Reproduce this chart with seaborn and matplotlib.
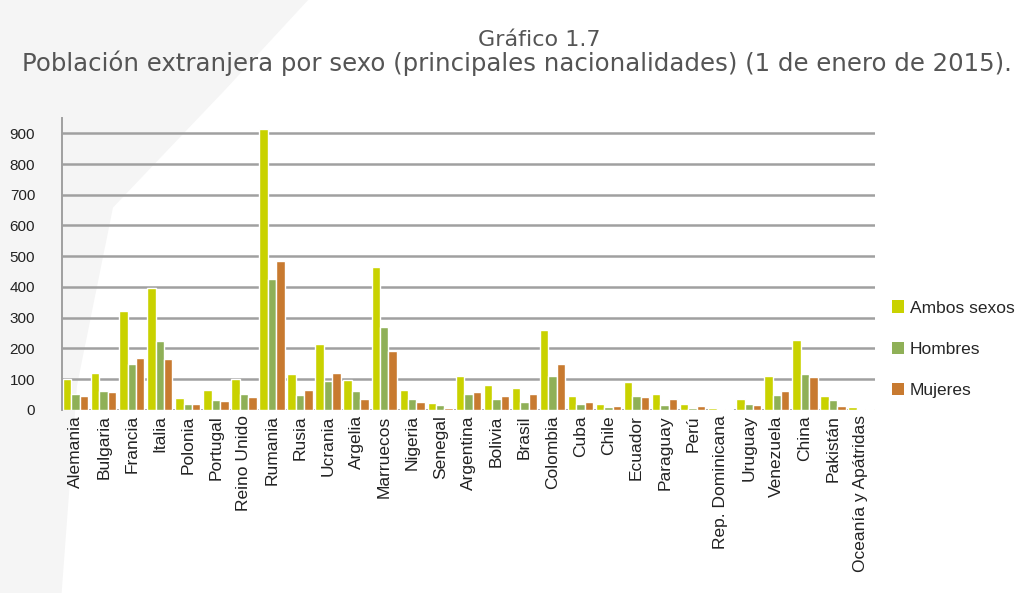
import matplotlib
matplotlib.use("Agg")
import matplotlib.pyplot as plt
import seaborn as sns
import pandas as pd
from matplotlib.patches import Polygon, Patch

paises = ["Alemania", "Bulgaria", "Francia", "Italia", "Polonia", "Portugal",
          "Reino Unido", "Rumania", "Rusia", "Ucrania", "Argelia", "Marruecos",
          "Nigeria", "Senegal", "Argentina", "Bolivia", "Brasil", "Colombia",
          "Cuba", "Chile", "Ecuador", "Paraguay", "Perú", "Rep. Dominicana",
          "Uruguay", "Venezuela", "China", "Pakistán", "Oceanía y Apátridas"]
ambos = [100, 120, 322, 398, 38, 63, 100, 915, 115, 215, 98, 465,
         65, 22, 110, 80, 70, 260, 45, 20, 90, 50, 18, 5,
         35, 110, 228, 45, 8]
hombres = [52, 60, 150, 225, 18, 32, 52, 425, 48, 95, 60, 270,
           35, 15, 52, 35, 25, 110, 20, 9, 45, 15, 7, 2,
           18, 48, 118, 32, 4]
mujeres = [46, 58, 168, 165, 20, 28, 40, 485, 65, 120, 35, 192,
           25, 6, 58, 45, 52, 148, 25, 12, 42, 35, 12, 3,
           17, 60, 108, 13, 4]
series = ["Ambos sexos", "Hombres", "Mujeres"]
colores = ["#c9d200", "#8fb057", "#c87a30"]

df = pd.DataFrame({
    "pais": paises * 3,
    "valor": ambos + hombres + mujeres,
    "sexo": [series[0]] * len(paises) + [series[1]] * len(paises) + [series[2]] * len(paises),
})

sns.set_style("white")
plt.rcParams["font.family"] = ["Liberation Sans", "DejaVu Sans"]

fig = plt.figure(figsize=(10.27, 5.93), dpi=100)
# decorative brush stroke in background
fig.patches.append(Polygon([(0.0, 0.0), (0.0, 1.0), (0.30, 1.0), (0.22, 0.85),
                            (0.11, 0.65), (0.075, 0.35), (0.06, 0.0)],
                           closed=True, transform=fig.transFigure,
                           facecolor="#f5f5f5", edgecolor="none", zorder=-10))

ax = fig.add_axes([0.060, 0.309, 0.792, 0.492])
ax.patch.set_alpha(0)
sns.barplot(data=df, x="pais", y="valor", hue="sexo", palette=colores,
            width=0.9, ax=ax, legend=False, saturation=1)

ax.set_ylim(0, 950)
ax.set_yticks(range(0, 1000, 100))
ax.set_xlim(-0.5, len(paises) - 0.5)
ax.yaxis.grid(True, color="#a0a0a0", linewidth=1.8)
ax.set_axisbelow(True)
for s in ["top", "right", "bottom"]:
    ax.spines[s].set_visible(False)
ax.spines["left"].set_color("#a0a0a0")
ax.spines["left"].set_linewidth(1.4)
ax.axhline(0, color="#a0a0a0", linewidth=1.4, zorder=0.5)
ax.set_xlabel("")
ax.set_ylabel("")
ax.tick_params(axis="y", labelsize=11, colors="#222222", length=0, pad=19)
ax.tick_params(axis="x", labelsize=12.5, colors="#222222", length=0, pad=4)
plt.setp(ax.get_xticklabels(), rotation=90)
# small ticks between categories
ax.set_xticks([i - 0.5 for i in range(len(paises) + 1)], minor=True)
ax.tick_params(axis="x", which="minor", length=4, color="#a0a0a0", width=1)

handles = [Patch(facecolor=c, edgecolor="none") for c in colores]
fig.legend(handles, series, loc="upper left", bbox_to_anchor=(0.862, 0.505),
           frameon=False, fontsize=12.5, handlelength=0.7, handleheight=0.7,
           handletextpad=0.3, labelspacing=1.5, borderaxespad=0)

fig.text(0.525, 0.932, "Gráfico 1.7", ha="center", va="center",
         fontsize=16, color="#555555", family=["DejaVu Sans"])
fig.text(0.503, 0.893, "Población extranjera por sexo (principales nacionalidades) (1 de enero de 2015).",
         ha="center", va="center", fontsize=17.6, color="#555555", family=["DejaVu Sans"])

fig.savefig("out.png", dpi=100)
